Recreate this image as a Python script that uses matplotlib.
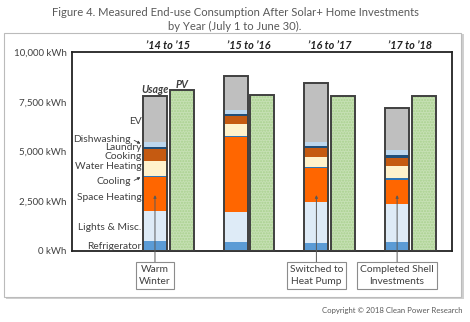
import numpy as np
import matplotlib
matplotlib.use("Agg")
import matplotlib.pyplot as plt
from matplotlib.patches import Rectangle

plt.rcParams['font.family'] = ['Lato', 'DejaVu Sans']

years = ["\u201914 to \u201915", "\u201915 to \u201916", "\u201916 to \u201917", "\u201917 to \u201918"]
end_uses = ["Refrigerator", "Lights & Misc.", "Space Heating", "Cooling", "Water Heating",
            "Cooking", "Laundry", "Dishwashing", "EV"]
usage = {
    "Refrigerator":   [480, 420, 400, 450],
    "Lights & Misc.": [1500, 1520, 2040, 1910],
    "Space Heating":  [1750, 3780, 1700, 1200],
    "Cooling":        [50, 40, 60, 120],
    "Water Heating":  [750, 600, 500, 560],
    "Cooking":        [580, 420, 460, 450],
    "Laundry":        [90, 100, 90, 110],
    "Dishwashing":    [250, 200, 210, 250],
    "EV":             [2350, 1720, 2990, 2150],
}
pv = [8080, 7830, 7800, 7770]
notes = {0: "Warm\nWinter", 2: "Switched to\nHeat Pump", 3: "Completed Shell\nInvestments"}
ytick_vals = [0, 2500, 5000, 7500, 10000]
ytick_labels = ["0 kWh", "2,500 kWh", "5,000 kWh", "7,500 kWh", "10,000 kWh"]

colors = {
    "Refrigerator": "#5b9bd5", "Lights & Misc.": "#deebf7", "Space Heating": "#ff6600",
    "Cooling": "#2e75b6", "Water Heating": "#fff2cc", "Cooking": "#c55a11",
    "Laundry": "#1f4e79", "Dishwashing": "#bdd7ee", "EV": "#bfbfbf",
}
# label y positions (data units) for the left-hand end-use labels
label_y = {"EV": 6480, "Dishwashing": 5620, "Laundry": 5190, "Cooking": 4760,
           "Water Heating": 4220, "Cooling": 3480, "Space Heating": 2690,
           "Lights & Misc.": 1150, "Refrigerator": 230}

txt = "#404040"
fs = 7.4
fig = plt.figure(figsize=(4.7, 3.22), dpi=100)
# outer panel with shadow
fig.add_artist(Rectangle((0.012, 0.070), 0.975, 0.825, transform=fig.transFigure,
                         facecolor="#d0d0d0", edgecolor="none", zorder=-10))
fig.add_artist(Rectangle((0.008, 0.078), 0.972, 0.820, transform=fig.transFigure,
                         facecolor="white", edgecolor="#bbbbbb", lw=0.8, zorder=-9))

ax = fig.add_axes([0.1532, 0.2214, 0.8085, 0.617])
x = np.arange(len(years))
off, w = 0.165, 0.297

bottom = np.zeros(len(years))
for eu in end_uses:
    vals = np.array(usage[eu])
    ax.bar(x - off, vals, w, bottom=bottom, color=colors[eu], lw=0, zorder=2)
    bottom += vals
ax.bar(x - off, bottom, w, fill=False, edgecolor="#404040", lw=1.4, zorder=3)
ax.bar(x + off, pv, w, color="#c6e0b4", edgecolor="#a9d18e", hatch="......", lw=0, zorder=2)
ax.bar(x + off, pv, w, fill=False, edgecolor="#404040", lw=1.4, zorder=3)

ax.set_xlim(-1.193, 3.515)
ax.set_ylim(0, 10000)
ax.set_xticks([])
ax.set_yticks(ytick_vals)
ax.set_yticklabels(ytick_labels, fontsize=7, color=txt)
ax.tick_params(axis="y", length=0, pad=4)
for s in ax.spines.values():
    s.set_linewidth(1.3)
    s.set_color("#222222")

for i, yr in enumerate(years):
    ax.text(i, 10060, yr, ha="center", va="bottom", fontsize=7.8, fontweight="bold",
            fontstyle="italic", color="#222222", clip_on=False)

ax.text(-off, bottom[0] + 60, "Usage", ha="center", va="bottom", fontsize=7.6,
        fontweight="bold", fontstyle="italic", color=txt)
ax.text(off, pv[0] + 30, "PV", ha="center", va="bottom", fontsize=7.6,
        fontweight="bold", fontstyle="italic", color=txt)

lx = -off - w / 2 - 0.02
for eu in end_uses:
    if eu in ("Dishwashing", "Cooling"):
        tx = lx - 0.13
        ax.text(tx, label_y[eu], eu, ha="right", va="center", fontsize=fs, color=txt)
        i_eu = end_uses.index(eu)
        ymid = sum(usage[e][0] for e in end_uses[:i_eu]) + usage[eu][0] / 2
        ax.annotate("", xy=(-off - w / 2, ymid), xytext=(tx + 0.01, label_y[eu]),
                    arrowprops=dict(arrowstyle="-|>", color="#404040", lw=0.6,
                                    mutation_scale=4))
    else:
        ax.text(lx, label_y[eu], eu, ha="right", va="center", fontsize=fs, color=txt)

for i, note in notes.items():
    ax.annotate(note, xy=(i - off, 2800), xytext=(i - off, -1250),
                ha="center", va="center", fontsize=fs, color=txt, linespacing=1.3,
                bbox=dict(boxstyle="square,pad=0.3", fc="white", ec="#8c8c8c", lw=0.8),
                arrowprops=dict(arrowstyle="-|>", color="#595959", lw=0.7,
                                mutation_scale=4, shrinkA=0, shrinkB=0),
                annotation_clip=False)

fig.text(0.5, 0.962, "Figure 4. Measured End-use Consumption After Solar+ Home Investments",
         ha="center", va="center", fontsize=8.1, color="#595959")
fig.text(0.5, 0.918, "by Year (July 1 to June 30).", ha="center", va="center",
         fontsize=8.1, color="#595959")
fig.text(0.983, 0.035, "Copyright \u00a9 2018 Clean Power Research", ha="right",
         va="center", fontsize=5.6, color="#595959")

fig.savefig("out.png", dpi=100)
